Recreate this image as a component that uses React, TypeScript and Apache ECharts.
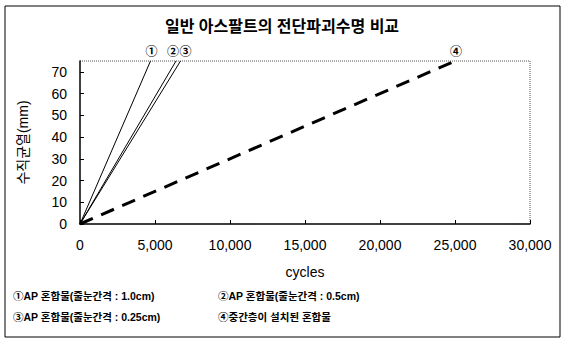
import React, { useEffect, useRef } from "react";
import * as echarts from "echarts";

const titleText = "일반 아스팔트의 전단파괴수명 비교";
const xAxisName = "cycles";
const yAxisName = "수직균열(mm)";
const seriesNames = [
  "①AP 혼합물(줄눈간격 : 1.0cm)",
  "②AP 혼합물(줄눈간격 : 0.5cm)",
  "③AP 혼합물(줄눈간격 : 0.25cm)",
  "④중간층이 설치된 혼합물",
];
const endMarks = ["①", "②", "③", "④"];
const cyclesStart = [0, 0, 0, 0];
const crackStart = [0, 0, 0, 0];
const cyclesEnd = [4700, 6400, 6700, 25000];
const crackEnd = [75, 75, 75, 75];

const FONT = "'Liberation Sans', Arial, 'Noto Sans CJK KR', sans-serif";

export default function App() {
  const ref = useRef<HTMLDivElement>(null);
  useEffect(() => {
    document.body.style.margin = "0";
    const chart = echarts.init(ref.current!, null, { renderer: "svg" });
    const series = seriesNames.map((name, i) => ({
      name,
      type: "line",
      symbol: "circle",
      symbolSize: 0.1,
      showSymbol: true,
      lineStyle: {
        color: "#000",
        width: i === 3 ? 3 : 1,
        type: i === 3 ? [14, 9] : "solid",
      },
      itemStyle: { color: "#000" },
      data: [
        { value: [cyclesStart[i], crackStart[i]], label: { show: false } },
        {
          value: [cyclesEnd[i], crackEnd[i]],
          label: {
            show: true,
            formatter: endMarks[i],
            position: "top",
            distance: 3,
            offset: i === 1 ? [-3, 0] : i === 2 ? [5, 0] : [1, 0],
            color: "#000",
            fontSize: 12,
            fontWeight: "bold",
            fontFamily: FONT,
          },
        },
      ],
    }));
    chart.setOption({
      animation: false,
      backgroundColor: "#fff",
      grid: { left: 80, right: 34, top: 61, bottom: 117, containLabel: false },
      xAxis: {
        type: "value",
        min: 0,
        max: 30000,
        interval: 5000,
        name: xAxisName,
        nameLocation: "middle",
        nameGap: 41,
        nameTextStyle: { color: "#000", fontSize: 14, fontFamily: FONT },
        axisLine: { lineStyle: { color: "#000", width: 1.5 } },
        axisTick: { inside: true, length: 4, lineStyle: { color: "#000" } },
        axisLabel: {
          color: "#000",
          fontSize: 14,
          margin: 14,
          fontFamily: FONT,
          formatter: (v: number) => v.toLocaleString("en-US"),
        },
        splitLine: { show: false },
      },
      yAxis: {
        type: "value",
        min: 0,
        max: 75,
        interval: 10,
        name: yAxisName,
        nameLocation: "middle",
        nameGap: 50,
        nameRotate: 90,
        nameTextStyle: { color: "#000", fontSize: 14, fontFamily: FONT },
        axisLine: { show: true, lineStyle: { color: "#000", width: 1.5 } },
        axisTick: { show: true, inside: true, length: 4, lineStyle: { color: "#000" } },
        axisLabel: {
          color: "#000",
          fontSize: 14,
          margin: 13,
          fontFamily: FONT,
          showMaxLabel: false,
        },
        splitLine: { show: false },
      },
      title: {
        text: titleText,
        left: "center",
        top: 13,
        textStyle: { color: "#000", fontSize: 16, fontWeight: "bold", fontFamily: FONT },
      },
      series,
      graphic: [
        {
          type: "rect",
          shape: { x: 5, y: 6, width: 555, height: 331 },
          style: { fill: "none", stroke: "#000", lineWidth: 1 },
          silent: true,
        },
        {
          type: "line",
          shape: { x1: 80, y1: 61, x2: 530, y2: 61 },
          style: { stroke: "#555", lineWidth: 1, lineDash: [1, 1] },
        },
        {
          type: "line",
          shape: { x1: 530, y1: 61, x2: 530, y2: 224 },
          style: { stroke: "#555", lineWidth: 1, lineDash: [1, 1] },
        },
        ...seriesNames.map((t, i) => ({
          type: "text",
          left: i % 2 === 0 ? 13 : 218,
          top: i < 2 ? 291 : 312,
          style: {
            text: t,
            fill: "#000",
            fontSize: 10.5,
            fontWeight: "bold",
            fontFamily: FONT,
          },
        })),
      ],
    });
    return () => chart.dispose();
  }, []);
  return (
    <div
      ref={ref}
      style={{ position: "absolute", left: 0, top: 0, width: 564, height: 341 }}
    />
  );
}
